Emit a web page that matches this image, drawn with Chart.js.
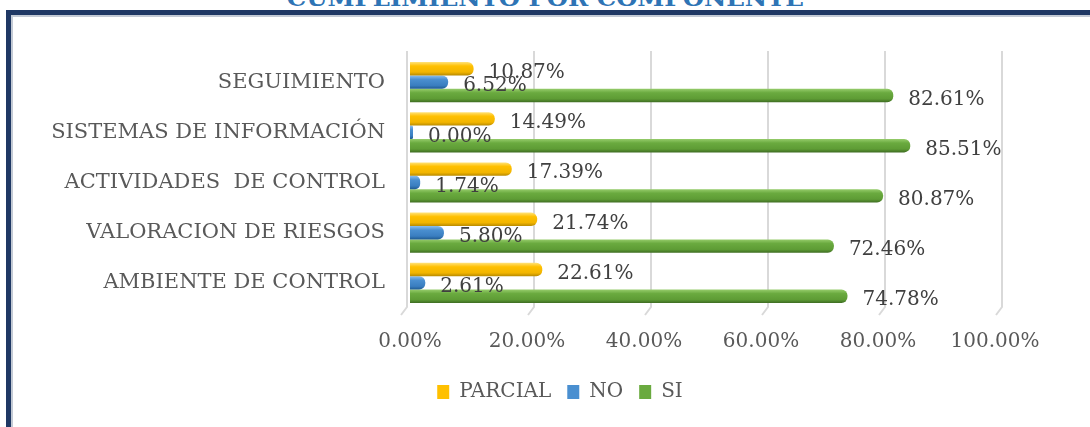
<!DOCTYPE html>
<html>
<head>
<meta charset="utf-8">
<script src="https://cdn.jsdelivr.net/npm/chart.js@4.4.0/dist/chart.umd.min.js"></script>
<style>
  html, body { margin: 0; padding: 0; background: #ffffff; overflow: hidden; }
  #wrap { position: relative; width: 1090px; height: 427px; overflow: hidden; background: #fff; }
  #frame { position: absolute; left: 6px; top: 10px; width: 1200px; height: 500px;
           border-top: 5px solid #1F3864; border-left: 5px solid #1F3864; box-sizing: border-box; }
  #inner { position: absolute; left: 11px; top: 15px; width: 1200px; height: 500px;
           border-top: 2px solid #C3CAD5; border-left: 2px solid #C3CAD5; box-sizing: border-box; }
  #title { position: absolute; left: 0; width: 1090px; top: -13px; text-align: center;
           font-family: "DejaVu Serif", serif; font-weight: bold; font-size: 22px; line-height: 22px;
           color: #2E74B5; white-space: nowrap; }
  #title span { display: inline-block; transform-origin: center; }
  canvas { position: absolute; left: 0; top: 0; }
</style>
</head>
<body>
<div id="wrap">
  <div id="frame"></div>
  <div id="inner"></div>
  <div id="title"><span id="tspan">CUMPLIMIENTO POR COMPONENTE</span></div>
  <canvas id="c" width="1090" height="427"></canvas>
</div>
<script>
const categories = ['SEGUIMIENTO', 'SISTEMAS DE INFORMACIÓN', 'ACTIVIDADES  DE CONTROL', 'VALORACION DE RIESGOS', 'AMBIENTE DE CONTROL'];
const parcial = [10.87, 14.49, 17.39, 21.74, 22.61];
const noVals = [6.52, 0.00, 1.74, 5.80, 2.61];
const siVals = [82.61, 85.51, 80.87, 72.46, 74.78];
const xTicks = [0, 20, 40, 60, 80, 100];
const seriesNames = ['PARCIAL', 'NO', 'SI'];

// scale the title to the reference width
(function(){
  const s = document.getElementById('tspan');
  const w = s.getBoundingClientRect().width;
  if (w > 0) s.style.transform = 'scaleX(' + (517 / w) + ')';
})();

const palette = [
  { flat: '#FFC000', stops: ['#FFE27A', '#FFC000', '#F2B500', '#B88A00'] },
  { flat: '#4A8FD0', stops: ['#8CC0EE', '#4A8FD0', '#3A7EC0', '#1F5A91'] },
  { flat: '#6AAA3F', stops: ['#96CC6B', '#6AAA3F', '#5E9C35', '#3E6C22'] }
];

const gradientPlugin = {
  id: 'grad',
  beforeDatasetsDraw(chart) {
    const ctx = chart.ctx;
    chart.data.datasets.forEach((ds, di) => {
      const meta = chart.getDatasetMeta(di);
      const st = palette[di].stops;
      meta.data.forEach(el => {
        const top = el.y - el.height / 2, bot = el.y + el.height / 2;
        const g = ctx.createLinearGradient(0, top, 0, bot);
        g.addColorStop(0, st[0]);
        g.addColorStop(0.3, st[1]);
        g.addColorStop(0.75, st[2]);
        g.addColorStop(1, st[3]);
        el.options.backgroundColor = g;
      });
    });
  }
};

const gridPlugin = {
  id: 'grid3d',
  beforeDatasetsDraw(chart) {
    const ctx = chart.ctx;
    const xs = chart.scales.x;
    const area = chart.chartArea;
    ctx.save();
    ctx.strokeStyle = '#D9D9D9';
    ctx.lineWidth = 2;
    xTicks.forEach(v => {
      const px = xs.getPixelForValue(v) + (v === 0 ? -3 : 7);
      ctx.beginPath();
      ctx.moveTo(px, area.top - 6);
      ctx.lineTo(px, area.bottom - 1);
      ctx.lineTo(px - 6, area.bottom + 7);
      ctx.stroke();
    });
    ctx.restore();
  }
};

const labelPlugin = {
  id: 'vlabels',
  afterDatasetsDraw(chart) {
    const ctx = chart.ctx;
    ctx.save();
    ctx.font = '20px "DejaVu Serif"';
    ctx.fillStyle = '#404040';
    ctx.textAlign = 'left';
    ctx.textBaseline = 'middle';
    chart.data.datasets.forEach((ds, di) => {
      const meta = chart.getDatasetMeta(di);
      meta.data.forEach((el, i) => {
        ctx.fillText(ds.data[i].toFixed(2) + '%', el.x + 15, el.y + 4);
      });
    });
    ctx.restore();
  }
};

const seriesData = [parcial, noVals, siVals];

new Chart(document.getElementById('c'), {
  type: 'bar',
  data: {
    labels: categories,
    datasets: seriesData.map((d, i) => ({
      label: seriesNames[i],
      data: d,
      backgroundColor: (c) => palette[i].flat,
      borderWidth: 0,
      borderRadius: 6,
      borderSkipped: 'start',
      minBarLength: 3,
      categoryPercentage: 0.8,
      barPercentage: 1.0
    }))
  },
  options: {
    indexAxis: 'y',
    responsive: false,
    animation: false,
    devicePixelRatio: 1,
    layout: { padding: { left: 125, right: 95, top: 57, bottom: 15 } },
    scales: {
      x: {
        min: 0, max: 100,
        afterBuildTicks: (s) => { s.ticks = xTicks.map(v => ({ value: v })); },
        afterFit: (s) => { s.height = 58; },
        grid: { display: false, drawTicks: false },
        border: { display: false },
        ticks: {
          padding: 22,
          color: '#595959',
          font: { family: 'DejaVu Serif', size: 20 },
          callback: (v) => Number(v).toFixed(2) + '%',
          maxRotation: 0
        }
      },
      y: {
        afterFit: (s) => { s.width = 410 - 125; s._computeLabelArea = () => null; },
        grid: { display: false, drawTicks: false },
        border: { display: false },
        ticks: {
          padding: 25,
          color: '#595959',
          font: { family: 'DejaVu Serif', size: 21 },
          autoSkip: false
        }
      }
    },
    plugins: {
      legend: {
        position: 'bottom',
        labels: {
          boxWidth: 12,
          boxHeight: 14,
          padding: 16,
          color: '#595959',
          font: { family: 'DejaVu Serif', size: 20 }
        }
      },
      tooltip: { enabled: false }
    }
  },
  plugins: [gridPlugin, gradientPlugin, labelPlugin]
});
</script>
</body>
</html>
